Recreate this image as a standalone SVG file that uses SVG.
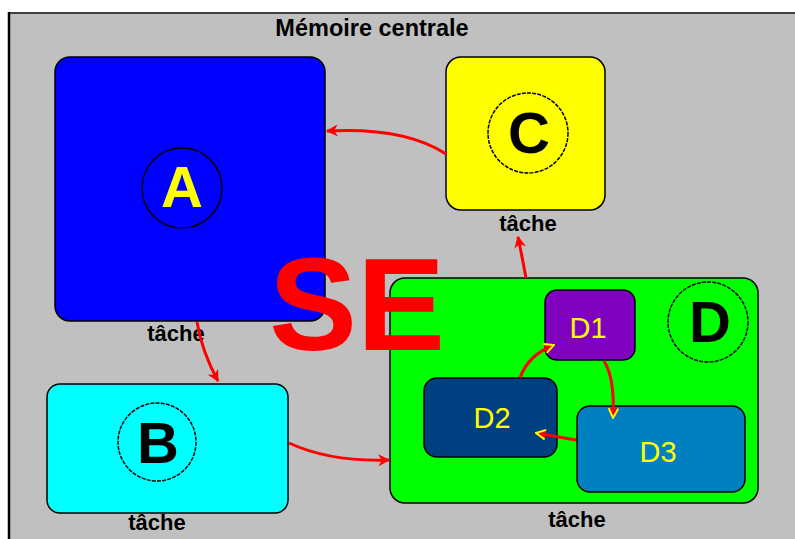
<svg xmlns="http://www.w3.org/2000/svg" width="795" height="539" viewBox="0 0 795 539">
<style>
.node{stroke:#000;stroke-width:1.5}
.ring{fill:none;stroke:#000;stroke-width:1.5;stroke-dasharray:4 1.2}
.big{font-family:"Liberation Sans",Arial,sans-serif;font-weight:bold;font-size:58px;text-anchor:middle}
.lbl{font-family:"Liberation Sans",Arial,sans-serif;font-weight:bold;font-size:22px;text-anchor:middle;fill:#000}
.sub{font-family:"Liberation Sans",Arial,sans-serif;font-size:29px;text-anchor:middle;fill:#ffff00}
.arr{fill:none;stroke:#f00;stroke-width:3}
</style>
<defs>
<marker id="ah" viewBox="0 0 10 10" refX="9" refY="5" markerWidth="14" markerHeight="12" orient="auto" markerUnits="userSpaceOnUse">
<path d="M0,0 L10,5 L0,10 L3,5 z" fill="#f00"/>
</marker>
<marker id="ah2" viewBox="0 0 10 10" refX="9" refY="5" markerWidth="12" markerHeight="12" orient="auto" markerUnits="userSpaceOnUse">
<path d="M1,1 L9,5 L1,9" fill="#f00" stroke="#ffff00" stroke-width="1.6"/>
</marker>
</defs>
<rect x="0" y="0" width="795" height="539" fill="#fff"/>
<rect x="9" y="13" width="790" height="530" fill="#c0c0c0"/>
<line x1="9" y1="13" x2="795" y2="13" stroke="#404040" stroke-width="2"/>
<line x1="9" y1="12" x2="9" y2="539" stroke="#000" stroke-width="2.5"/>
<text x="372" y="36" class="lbl" style="font-size:23.5px">Mémoire centrale</text>

<g id="A">
<rect class="node" x="55" y="57" width="270" height="264" rx="15" fill="#0000ff"/>
<circle class="ring" cx="182" cy="188" r="40" style="stroke-dasharray:none"/>
<text x="182" y="207" class="big" fill="#ffff00">A</text>
<text x="176" y="341" class="lbl">tâche</text>
</g>
<g id="B">
<rect class="node" x="47" y="384" width="241" height="129" rx="13" fill="#00ffff"/>
<circle class="ring" cx="157" cy="442" r="39"/>
<text x="158" y="463" class="big" fill="#000">B</text>
<text x="157" y="530" class="lbl">tâche</text>
</g>
<g id="C">
<rect class="node" x="446" y="57" width="159" height="153" rx="15" fill="#ffff00"/>
<circle class="ring" cx="528" cy="133" r="40"/>
<text x="529" y="153" class="big" fill="#000">C</text>
<text x="528" y="231" class="lbl">tâche</text>
</g>
<g id="D">
<rect class="node" x="390" y="278" width="368" height="225" rx="15" fill="#00ff00"/>
<circle class="ring" cx="708" cy="322" r="40"/>
<text x="710" y="342" class="big" fill="#000">D</text>
<text x="577" y="527" class="lbl">tâche</text>
</g>
<g id="D1">
<rect class="node" x="545" y="290" width="90" height="70" rx="12" fill="#8000c0"/>
<text x="588" y="338" class="sub">D1</text>
</g>
<g id="D2">
<rect class="node" x="424" y="378" width="133" height="79" rx="13" fill="#004080"/>
<text x="492" y="428" class="sub">D2</text>
</g>
<g id="D3">
<rect class="node" x="577" y="406" width="168" height="86" rx="13" fill="#0080c0"/>
<text x="658" y="462" class="sub">D3</text>
</g>

<g id="connectors">
<path class="arr" d="M446,154 Q405,127 327,131" marker-end="url(#ah)"/>
<path class="arr" d="M197,322 Q202,352 218,381" marker-end="url(#ah)"/>
<path class="arr" d="M289,443 Q330,462 389,460" marker-end="url(#ah)"/>
<path class="arr" d="M526,278 Q522,256 518,237" marker-end="url(#ah)"/>
<path class="arr" d="M520,378 Q528,355 554,345" marker-end="url(#ah2)"/>
<path class="arr" d="M604,361 Q615,378 613,418" marker-end="url(#ah2)"/>
<path class="arr" d="M576,440 L536,433" marker-end="url(#ah2)"/>
</g>

<g id="SE">
<text x="357" y="350" font-family="'Liberation Sans',Arial,sans-serif" font-weight="bold" font-size="132" fill="#f00" text-anchor="middle">SE</text>
</g>
</svg>
